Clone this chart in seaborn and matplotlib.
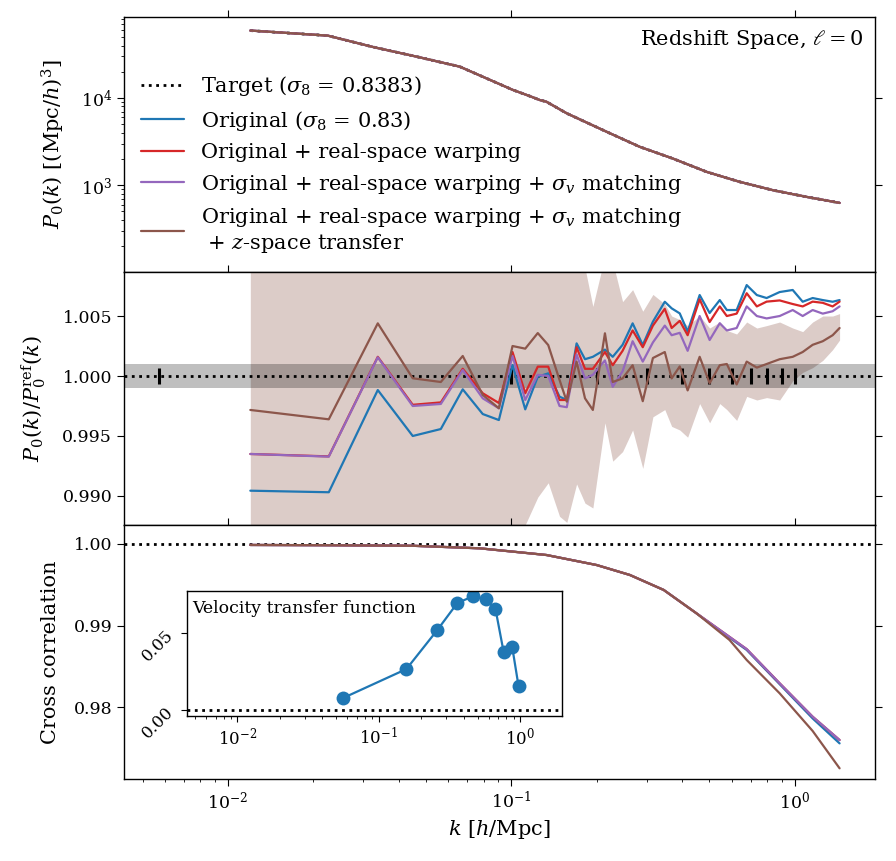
import numpy as np
import pandas as pd
import matplotlib
matplotlib.use("Agg")
import matplotlib.pyplot as plt
from matplotlib.lines import Line2D
import seaborn as sns

# ---------------- data ----------------
# top panel: monopole power spectrum
k_pk = [0.0120, 0.0225, 0.0325, 0.0464, 0.0658, 0.1012, 0.116, 0.126, 0.133, 0.157,
        0.217, 0.284, 0.371, 0.489, 0.640, 0.837, 1.10, 1.44]
pk = [59400, 52000, 38500, 29800, 22900, 12400, 10540, 9490, 9070, 6670,
      4100, 2755, 2026, 1422, 1092, 877, 735, 627]

# middle panel: ratio to reference
k_mid = [0.0120, 0.0227, 0.0338, 0.0449, 0.0564, 0.0674, 0.0793, 0.0904, 0.101, 0.112,
         0.124, 0.135, 0.148, 0.157, 0.170, 0.182, 0.194, 0.214, 0.228, 0.247,
         0.268, 0.291, 0.316, 0.348, 0.368, 0.393, 0.419, 0.462, 0.501, 0.544,
         0.576, 0.624, 0.677, 0.735, 0.796, 0.885, 0.984, 1.067, 1.157, 1.256,
         1.361, 1.44]
ratio_orig = [0.99044, 0.99031, 0.99883, 0.99500, 0.99558, 0.99889, 0.99683, 0.99633, 1.00092, 0.99722,
              0.99994, 1.00022, 0.99828, 0.99800, 1.00272, 1.00140, 1.00160, 1.00220, 1.00160, 1.00260,
              1.00439, 1.00258, 1.00453, 1.00619, 1.00564, 1.00522, 1.00370, 1.00675, 1.00525, 1.00633,
              1.00550, 1.00550, 1.00758, 1.00675, 1.00650, 1.00700, 1.00717, 1.00619, 1.00650, 1.00633,
              1.00619, 1.00633]
ratio_warp = [0.99350, 0.99330, 1.00160, 0.99760, 0.99780, 1.00060, 0.99856, 0.99775, 1.00200, 0.99856,
              1.00078, 1.00078, 0.99800, 0.99800, 1.00240, 1.00060, 1.00060, 1.00200, 1.00090, 1.00210,
              1.00380, 1.00240, 1.00420, 1.00560, 1.00400, 1.00460, 1.00340, 1.00640, 1.00450, 1.00580,
              1.00500, 1.00520, 1.00690, 1.00580, 1.00620, 1.00630, 1.00600, 1.00580, 1.00620, 1.00610,
              1.00580, 1.00620]
ratio_sigv = [0.99350, 0.99328, 1.00156, 0.99750, 0.99767, 1.00050, 0.99814, 0.99731, 1.00167, 0.99800,
              1.00010, 1.00000, 0.99750, 0.99740, 1.00180, 0.99980, 1.00010, 1.00130, 0.99910, 1.00040,
              1.00290, 1.00120, 1.00280, 1.00420, 1.00340, 1.00360, 1.00210, 1.00500, 1.00300, 1.00440,
              1.00380, 1.00400, 1.00580, 1.00500, 1.00480, 1.00500, 1.00550, 1.00500, 1.00550, 1.00520,
              1.00540, 1.00580]
ratio_zsp = [0.99717, 0.99639, 1.00439, 0.99981, 0.99950, 1.00167, 0.99842, 0.99731, 1.00250, 1.00228,
             1.00358, 1.00258, 0.99967, 0.99786, 1.00120, 0.99814, 0.99717, 1.00356, 0.99950, 0.99980,
             1.00090, 0.99790, 1.00150, 1.00200, 0.99980, 1.00080, 0.99880, 1.00160, 0.99940, 1.00090,
             1.00100, 0.99930, 1.00120, 1.00070, 1.00100, 1.00140, 1.00160, 1.00200, 1.00260, 1.00290,
             1.00340, 1.00400]
band_lo = [0.975, 0.975, 0.975, 0.975, 0.975, 0.975, 0.975, 0.975, 0.9840, 0.9876,
           0.9899, 0.9911, 0.9883, 0.9878, 0.9910, 0.9894, 0.9890, 0.9961, 0.9929, 0.9937,
           0.9955, 0.9923, 0.9966, 0.9972, 0.9958, 0.9955, 0.9949, 0.9977, 0.9961, 0.9977,
           0.9972, 0.9963, 0.9983, 0.9980, 0.9982, 0.9980, 0.9996, 1.0003, 1.0007, 1.0013,
           1.0022, 1.0030]
band_hi = [1.02, 1.02, 1.02, 1.02, 1.02, 1.02, 1.02, 1.02, 1.02, 1.02,
           1.02, 1.02, 1.02, 1.02, 1.02, 1.0090, 1.0058, 1.0100, 1.0095, 1.0062,
           1.0072, 1.0054, 1.0068, 1.0060, 1.0050, 1.0047, 1.0042, 1.0050, 1.0040, 1.0045,
           1.0038, 1.0035, 1.0045, 1.0040, 1.0042, 1.0045, 1.0040, 1.0037, 1.0045, 1.0050,
           1.0050, 1.0052]
k_edges = [0.0057, 0.1, 0.2, 0.3, 0.4, 0.5, 0.6, 0.7, 0.8, 0.9, 1.0]

# bottom panel: cross correlation
k_cc = [0.0120, 0.0225, 0.045, 0.0774, 0.133, 0.200, 0.262, 0.345, 0.450, 0.589,
        0.677, 0.885, 1.157, 1.44]
cc_orig = [0.99988, 0.99985, 0.99978, 0.99947, 0.99865, 0.99742, 0.99620, 0.99436, 0.99150, 0.98850,
           0.98700, 0.98280, 0.97860, 0.97554]
cc_warp = [0.99988, 0.99985, 0.99978, 0.99947, 0.99865, 0.99742, 0.99620, 0.99436, 0.99150, 0.98860,
           0.98710, 0.98291, 0.97881, 0.97595]
cc_sigv = [0.99988, 0.99985, 0.99978, 0.99947, 0.99865, 0.99742, 0.99620, 0.99436, 0.99150, 0.98860,
           0.98710, 0.98291, 0.97881, 0.97595]
cc_zsp = [0.99988, 0.99985, 0.99978, 0.99947, 0.99865, 0.99742, 0.99620, 0.99436, 0.99150, 0.98822,
          0.98577, 0.98168, 0.97706, 0.97248]

# inset: velocity transfer function
k_vt = [0.056, 0.157, 0.26, 0.36, 0.468, 0.57, 0.67, 0.765, 0.88, 0.975]
vt = [0.0078, 0.0266, 0.052, 0.0695, 0.074, 0.072, 0.0656, 0.0377, 0.0409, 0.0156]

labels = [r"Target ($\sigma_8$ = 0.8383)",
          r"Original ($\sigma_8$ = 0.83)",
          r"Original + real-space warping",
          r"Original + real-space warping + $\sigma_v$ matching",
          "Original + real-space warping + $\\sigma_v$ matching\n + $z$-space transfer"]

# ---------------- style ----------------
sns.set_style("ticks")
plt.rcParams.update({
    "font.family": ["DejaVu Serif"],
    "mathtext.fontset": "dejavuserif",
    "font.size": 14,
    "axes.labelsize": 15,
    "xtick.labelsize": 12.5,
    "ytick.labelsize": 12.5,
    "xtick.direction": "out",
    "ytick.direction": "out",
    "xtick.major.size": 5,
    "ytick.major.size": 5,
    "xtick.minor.size": 2.5,
    "ytick.minor.size": 2.5,
    "axes.linewidth": 1.0,
    "axes.edgecolor": "black",
    "xtick.color": "black",
    "ytick.color": "black",
    "text.color": "black",
    "axes.labelcolor": "black",
})

C_BLUE, C_RED, C_PURP, C_BROWN = "#1f77b4", "#d62728", "#9467bd", "#8c564b"
colors = [C_BLUE, C_RED, C_PURP, C_BROWN]

fig = plt.figure(figsize=(8.96, 8.61), dpi=100)
L, W = 124 / 896, (875 - 124) / 896
H = 861
ax1 = fig.add_axes([L, 1 - 272 / H, W, 255 / H])
ax2 = fig.add_axes([L, 1 - 525 / H, W, 253 / H], sharex=ax1)
ax3 = fig.add_axes([L, 1 - 779 / H, W, 254 / H], sharex=ax1)

lw = 1.6
lpad = 10

# ---- top panel ----
sns.lineplot(x=k_pk, y=pk, ax=ax1, color="k", ls=":", lw=2, estimator=None, sort=False)
for c in colors:
    sns.lineplot(x=k_pk, y=pk, ax=ax1, color=c, lw=lw, estimator=None, sort=False)
ax1.set_xscale("log")
ax1.set_yscale("log")
ax1.set_ylim(101, 85000)
ax1.set_ylabel(r"$P_0(k)$ [(Mpc/$h)^3$]", labelpad=lpad)
ax1.text(0.985, 0.955, r"Redshift Space, $\ell=0$", transform=ax1.transAxes,
         ha="right", va="top", fontsize=15)
handles = [Line2D([], [], color="k", ls=":", lw=2)] + [Line2D([], [], color=c, lw=lw) for c in colors]
ax1.legend(handles, labels, loc="lower left", frameon=False, fontsize=15,
           handlelength=2.1, labelspacing=0.5, borderaxespad=0.4)

# ---- middle panel ----
ax2.fill_between(k_mid, band_lo, band_hi, color=C_BROWN, alpha=0.3, lw=0)
ax2.axhspan(0.999, 1.001, color="k", alpha=0.25, lw=0)
ax2.axhline(1.0, color="k", ls=":", lw=2)
ax2.plot(k_edges, [1.0] * len(k_edges), ls="none", marker="|", color="k", ms=11, mew=2.2)
for c, r in zip(colors, [ratio_orig, ratio_warp, ratio_sigv, ratio_zsp]):
    sns.lineplot(x=k_mid, y=r, ax=ax2, color=c, lw=lw, estimator=None, sort=False)
ax2.set_ylim(0.98758, 1.00867)
ax2.set_yticks([0.990, 0.995, 1.000, 1.005])
ax2.set_yticklabels(["0.990", "0.995", "1.000", "1.005"])
ax2.set_ylabel(r"$P_0(k)/P_0^{\rm ref}(k)$", labelpad=lpad)

# ---- bottom panel ----
ax3.axhline(1.0, color="k", ls=":", lw=2)
for c, r in zip(colors, [cc_orig, cc_warp, cc_sigv, cc_zsp]):
    sns.lineplot(x=k_cc, y=r, ax=ax3, color=c, lw=lw, estimator=None, sort=False)
ax3.set_ylim(0.97117, 1.00233)
ax3.set_yticks([0.98, 0.99, 1.00])
ax3.set_yticklabels(["0.98", "0.99", "1.00"])
ax3.set_ylabel("Cross correlation", labelpad=lpad)
ax3.set_xlabel(r"$k$ [$h$/Mpc]")
ax3.set_xlim(0.0043, 1.92)

for ax in (ax1, ax2, ax3):
    ax.tick_params(which="major", top=True, right=True)
for ax in (ax1, ax2):
    ax.tick_params(labelbottom=False)

# ---- inset ----
axin = fig.add_axes([187 / 896, 1 - 716 / H, 375 / 896, 125 / H])
axin.axhline(0.0, color="k", ls=":", lw=2)
sns.lineplot(x=k_vt, y=vt, ax=axin, color=C_BLUE, lw=1.6, marker="o", ms=10,
             markeredgewidth=0, estimator=None, sort=False)
axin.set_xscale("log")
axin.set_xlim(0.0044, 1.98)
axin.set_ylim(-0.0039, 0.0773)
axin.set_yticks([0.0, 0.05])
axin.set_yticklabels(["0.00", "0.05"], rotation=45, fontsize=12)
axin.tick_params(axis="x", labelsize=12)
axin.tick_params(which="major", length=4)
axin.tick_params(which="minor", length=2)
axin.text(0.015, 0.86, "Velocity transfer function", transform=axin.transAxes,
          ha="left", va="center", fontsize=12.5)

fig.savefig("out.png", dpi=100)
